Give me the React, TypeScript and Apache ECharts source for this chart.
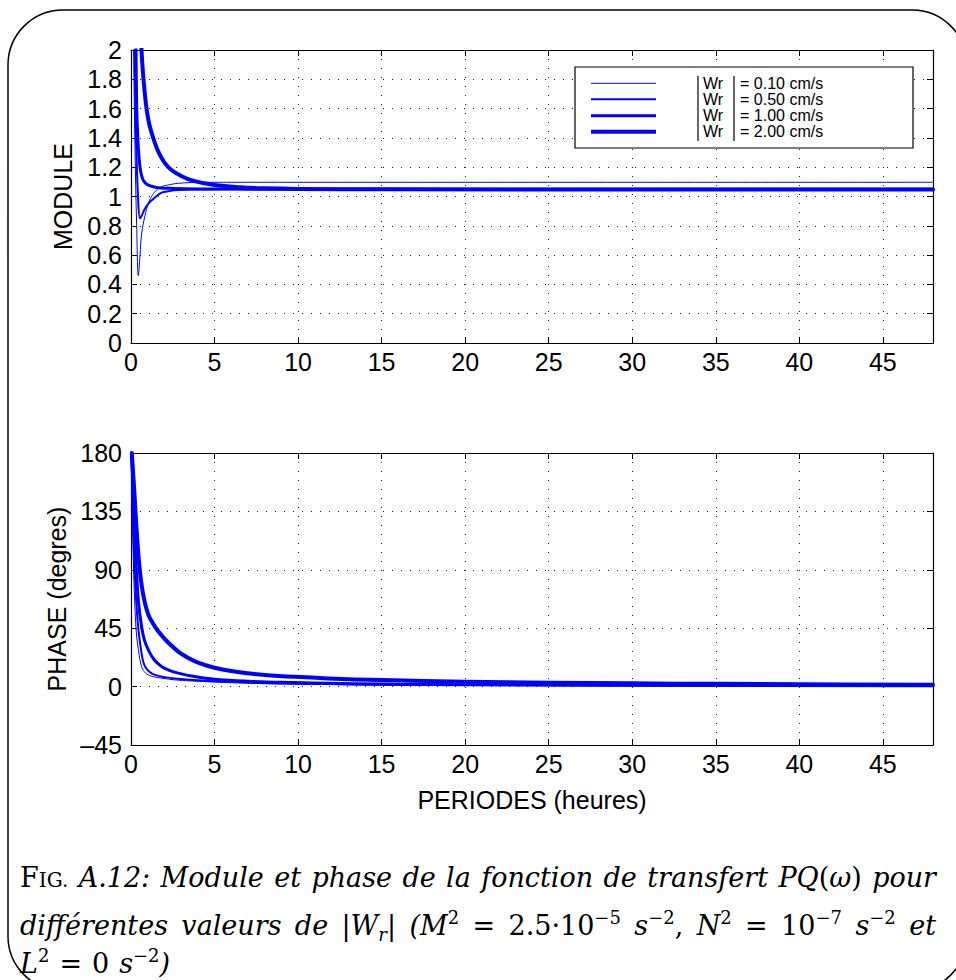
import React, { useEffect, useRef } from 'react';
import * as echarts from 'echarts';

// ---------- DATA ----------
const seriesNames = ['|Wr| = 0.10 cm/s', '|Wr| = 0.50 cm/s', '|Wr| = 1.00 cm/s', '|Wr| = 2.00 cm/s'];
const legendValues = ['= 0.10 cm/s', '= 0.50 cm/s', '= 1.00 cm/s', '= 2.00 cm/s'];

// MODULE vs period (hours)
const moduleW010: [number, number][] = [
  [0.06, 3.0], [0.16, 2.0], [0.24, 1.32], [0.34, 0.8], [0.44, 0.46], [0.54, 0.6], [0.64, 0.75],
  [0.84, 0.87], [1.03, 0.95], [1.23, 1.0], [1.5, 1.04], [1.83, 1.067], [2.3, 1.08], [2.83, 1.09],
  [4, 1.096], [6, 1.097], [20, 1.097], [48, 1.097],
];
const moduleW050: [number, number][] = [
  [0.1, 3.0], [0.2, 2.1], [0.3, 1.4], [0.42, 1.0], [0.54, 0.851], [0.65, 0.87], [0.8, 0.91],
  [1.03, 0.95], [1.4, 0.99], [1.83, 1.026], [2.3, 1.037], [2.83, 1.044], [4, 1.048], [6, 1.05],
  [20, 1.049], [48, 1.049],
];
const moduleW100: [number, number][] = [
  [0.2, 3.0], [0.3, 2.0], [0.34, 1.62], [0.39, 1.45], [0.44, 1.33], [0.54, 1.2], [0.64, 1.14],
  [0.74, 1.11], [0.93, 1.085], [1.23, 1.07], [1.63, 1.06], [2.5, 1.055], [4, 1.052], [8, 1.05],
  [20, 1.049], [48, 1.049],
];
const moduleW200: [number, number][] = [
  [0.55, 2.3], [0.63, 2.0], [0.74, 1.81], [0.84, 1.69], [0.93, 1.6], [1.1, 1.49], [1.33, 1.4],
  [1.7, 1.29], [2.23, 1.2], [3, 1.14], [3.8, 1.105], [5, 1.078], [6.5, 1.063], [8, 1.056],
  [10, 1.052], [15, 1.049], [48, 1.048],
];

// PHASE (degrees) vs period (hours)
const phaseW010: [number, number][] = [
  [0.02, 180], [0.1, 120], [0.18, 80], [0.3, 45], [0.44, 28.5], [0.63, 15.5], [0.8, 11.5],
  [1.03, 9], [1.4, 7.5], [1.83, 6.5], [2.8, 5], [3.83, 4.2], [5.5, 3.2], [7.8, 2.3], [11, 1.7],
  [15, 1.2], [20, 0.9], [30, 0.6], [48, 0.4],
];
const phaseW050: [number, number][] = [
  [0.03, 180], [0.12, 130], [0.25, 80], [0.4, 50], [0.54, 33.7], [0.7, 21], [0.84, 15.5],
  [1.1, 11.5], [1.43, 9], [2, 7.3], [2.83, 6], [4, 4.8], [5.8, 3.9], [8, 2.8], [11.8, 2],
  [16, 1.5], [20, 1.2], [30, 0.8], [48, 0.5],
];
const phaseW100: [number, number][] = [
  [0.05, 180], [0.15, 140], [0.3, 95], [0.45, 65], [0.63, 46.5], [0.8, 36], [1.03, 28.5],
  [1.4, 20.5], [1.83, 15.5], [2.3, 12.5], [2.83, 10.4], [3.8, 7.8], [5, 5.7], [7, 4.2],
  [9.8, 3.1], [11.8, 2.5], [15, 2], [20, 1.5], [30, 1], [48, 0.6],
];
const phaseW200: [number, number][] = [
  [0.05, 180], [0.2, 150], [0.35, 118], [0.5, 93], [0.65, 77], [0.84, 64], [1.05, 55],
  [1.3, 49], [1.55, 44], [1.83, 39.5], [2.3, 33], [2.83, 27], [3.3, 23], [3.83, 19.5],
  [4.4, 16.8], [5, 14.5], [6, 12], [7, 10.3], [8, 9], [9.8, 7.5], [11.8, 6.3], [15, 5],
  [20, 3.8], [25, 3], [30, 2.5], [35, 2.1], [40, 1.8], [48, 1.5],
];

const moduleData = [moduleW010, moduleW050, moduleW100, moduleW200];
const phaseData = [phaseW010, phaseW050, phaseW100, phaseW200];

// Caption: lines -> words -> fragments [text, style]
type Frag = [string, string];
const captionLine1: Frag[][] = [
  [['F', 'rm'], ['IG.', 'sc']], [['A.12:', 'it']], [['Module', 'it']], [['et', 'it']], [['phase', 'it']],
  [['de', 'it']], [['la', 'it']], [['fonction', 'it']], [['de', 'it']], [['transfert', 'it']],
  [['PQ', 'cal'], ['(', 'rm'], ['ω', 'it'], [')', 'rm']], [['pour', 'it']],
];
const captionLine2: Frag[][] = [
  [['différentes', 'it']], [['valeurs', 'it']], [['de', 'it']],
  [['|', 'rm'], ['W', 'it'], ['r', 'sub'], ['|', 'rm']],
  [['(', 'it'], ['M', 'it'], ['2', 'sup']], [['=', 'rm']], [['2.5·10', 'rm'], ['−5', 'sup']],
  [['s', 'it'], ['−2', 'sup'], [',', 'rm']], [['N', 'it'], ['2', 'sup']], [['=', 'rm']],
  [['10', 'rm'], ['−7', 'sup']], [['s', 'it'], ['−2', 'sup']], [['et', 'it']],
];
const captionLine3: Frag[][] = [
  [['L', 'it'], ['2', 'sup']], [['=', 'rm']], [['0', 'rm']], [['s', 'it'], ['−2', 'sup'], [')', 'it']],
];

// ---------- LAYOUT / STYLE ----------
const SANS = '"Liberation Sans", Arial, Helvetica, sans-serif';
const SERIF = '"DejaVu Serif", "Liberation Serif", serif';
const BLUE = '#0000ff';
const WIDTHS = [1, 2, 3, 4];

const FSTY: Record<string, { size: number; italic: boolean; shift: number }> = {
  rm: { size: 27, italic: false, shift: 0 },
  it: { size: 27, italic: true, shift: 0 },
  sc: { size: 20, italic: false, shift: 0 },
  cal: { size: 27, italic: true, shift: 0 },
  sup: { size: 18, italic: false, shift: 11 },
  sub: { size: 18, italic: true, shift: -6 },
};

let measureCtx: CanvasRenderingContext2D | null = null;
function measure(text: string, st: string): number {
  if (!measureCtx) measureCtx = document.createElement('canvas').getContext('2d');
  const s = FSTY[st];
  measureCtx!.font = `${s.italic ? 'italic ' : ''}${s.size}px ${SERIF}`;
  return measureCtx!.measureText(text).width;
}

function buildCaption(): any[] {
  const els: any[] = [];
  const lines = [
    { words: captionLine1, base: 887, justify: true },
    { words: captionLine2, base: 935, justify: true },
    { words: captionLine3, base: 973, justify: false },
  ];
  const left = 20;
  const right = 936;
  lines.forEach((line) => {
    const widths = line.words.map((w) => w.reduce((s, f) => s + measure(f[0], f[1]), 0));
    const total = widths.reduce((a, b) => a + b, 0);
    const gap = line.justify ? (right - left - total) / (line.words.length - 1) : 10;
    let x = left;
    line.words.forEach((w, wi) => {
      let fx = x;
      w.forEach(([t, st]) => {
        const s = FSTY[st];
        els.push({
          type: 'text',
          x: fx,
          y: line.base - s.shift - 0.34 * s.size,
          z: 100,
          style: {
            text: t,
            fontSize: s.size,
            fontFamily: SERIF,
            fontStyle: s.italic ? 'italic' : 'normal',
            fill: '#000',
            textAlign: 'left',
            textVerticalAlign: 'middle',
          },
        });
        fx += measure(t, st);
      });
      x += widths[wi] + gap;
    });
  });
  return els;
}

function buildLegend(): any[] {
  const els: any[] = [];
  const rows = [83.3, 99.3, 115.7, 131.7];
  els.push({
    type: 'rect', z: 100,
    shape: { x: 575, y: 67, width: 338, height: 81 },
    style: { fill: '#fff', stroke: '#000', lineWidth: 1.2 },
  });
  rows.forEach((y, i) => {
    els.push({
      type: 'line', z: 101,
      shape: { x1: 591, y1: y, x2: 656, y2: y },
      style: { stroke: BLUE, lineWidth: WIDTHS[i] },
    });
    els.push({
      type: 'text', z: 101, x: 703, y,
      style: { text: 'Wr', fontSize: 16, fontFamily: SANS, fill: '#000', textAlign: 'left', textVerticalAlign: 'middle' },
    });
    els.push({
      type: 'text', z: 101, x: 740, y,
      style: { text: legendValues[i], fontSize: 16, fontFamily: SANS, fill: '#000', textAlign: 'left', textVerticalAlign: 'middle' },
    });
  });
  [698, 734].forEach((bx) => {
    els.push({
      type: 'line', z: 101,
      shape: { x1: bx, y1: 76, x2: bx, y2: 141 },
      style: { stroke: '#000', lineWidth: 1.2 },
    });
  });
  return els;
}

const dotted = { color: '#222', width: 1, type: [1, 8] as any };
const tickStyle = { show: true, inside: true, length: 6, lineStyle: { color: '#000', width: 1 } };
const axisLineStyle = { show: true, onZero: false, lineStyle: { color: '#000', width: 1.2 } };
const labelStyle = { color: '#000', fontSize: 25, fontFamily: SANS };

function xAxes(gridIndex: number, withName: boolean): any[] {
  return [
    {
      type: 'value', gridIndex, position: 'bottom', min: 0, max: 48, interval: 5,
      axisLine: axisLineStyle, axisTick: tickStyle,
      axisLabel: {
        ...labelStyle, margin: 6, showMaxLabel: false,
        formatter: (v: number) => (v % 5 === 0 ? String(v) : ''),
      },
      splitLine: { show: true, lineStyle: dotted },
      name: withName ? 'PERIODES (heures)' : '',
      nameLocation: 'middle', nameGap: 42,
      nameTextStyle: { color: '#000', fontSize: 25, fontFamily: SANS },
    },
    {
      type: 'value', gridIndex, position: 'top', min: 0, max: 48, interval: 5,
      axisLine: axisLineStyle, axisTick: tickStyle, axisLabel: { show: false }, splitLine: { show: false },
    },
  ];
}

function yAxes(gridIndex: number, min: number, max: number, interval: number, name: string, fmt: (v: number) => string): any[] {
  return [
    {
      type: 'value', gridIndex, position: 'left', min, max, interval,
      axisLine: axisLineStyle, axisTick: tickStyle,
      axisLabel: { ...labelStyle, margin: 9, formatter: fmt },
      splitLine: { show: true, lineStyle: dotted },
      name, nameLocation: 'middle', nameGap: 56, nameRotate: 90,
      nameTextStyle: { color: '#000', fontSize: 25, fontFamily: SANS },
    },
    {
      type: 'value', gridIndex, position: 'right', min, max, interval,
      axisLine: axisLineStyle, axisTick: tickStyle, axisLabel: { show: false }, splitLine: { show: false },
    },
  ];
}

export default function App() {
  const ref = useRef<HTMLDivElement>(null);
  useEffect(() => {
    if (!ref.current) return;
    const chart = echarts.init(ref.current, undefined, { renderer: 'svg' });
    const series: any[] = [];
    moduleData.forEach((d, i) => {
      series.push({
        type: 'line', name: seriesNames[i], xAxisIndex: 0, yAxisIndex: 0, data: d,
        showSymbol: false, smooth: 0.4, clip: true,
        lineStyle: { color: BLUE, width: WIDTHS[i], join: 'round', cap: 'round' }, itemStyle: { color: BLUE }, z: 3 + i,
      });
    });
    phaseData.forEach((d, i) => {
      series.push({
        type: 'line', name: seriesNames[i], xAxisIndex: 2, yAxisIndex: 2, data: d,
        showSymbol: false, smooth: 0.4, clip: true,
        lineStyle: { color: BLUE, width: WIDTHS[i], join: 'round', cap: 'round' }, itemStyle: { color: BLUE }, z: 3 + i,
      });
    });
    chart.setOption({
      animation: false,
      backgroundColor: '#fff',
      textStyle: { fontFamily: SANS },
      grid: [
        { left: 131, top: 50, width: 802, height: 293, containLabel: false },
        { left: 131, top: 453, width: 802, height: 292, containLabel: false },
      ],
      xAxis: [...xAxes(0, false), ...xAxes(1, true)],
      yAxis: [
        ...yAxes(0, 0, 2, 0.2, 'MODULE', (v: number) => String(+v.toFixed(1))),
        ...yAxes(1, -45, 180, 45, 'PHASE (degres)', (v: number) => String(Math.round(v)).replace('-', '–')),
      ],
      series,
      graphic: [
        {
          type: 'rect', z: 100,
          shape: { x: 8, y: 10, width: 959, height: 981, r: 55 },
          style: { fill: 'none', stroke: '#000', lineWidth: 1.5 },
        },
        ...buildLegend(),
        ...buildCaption(),
      ],
    });
    return () => chart.dispose();
  }, []);
  return (
    <div
      ref={ref}
      style={{ position: 'absolute', left: 0, top: 0, width: 956, height: 980, background: '#fff' }}
    />
  );
}
